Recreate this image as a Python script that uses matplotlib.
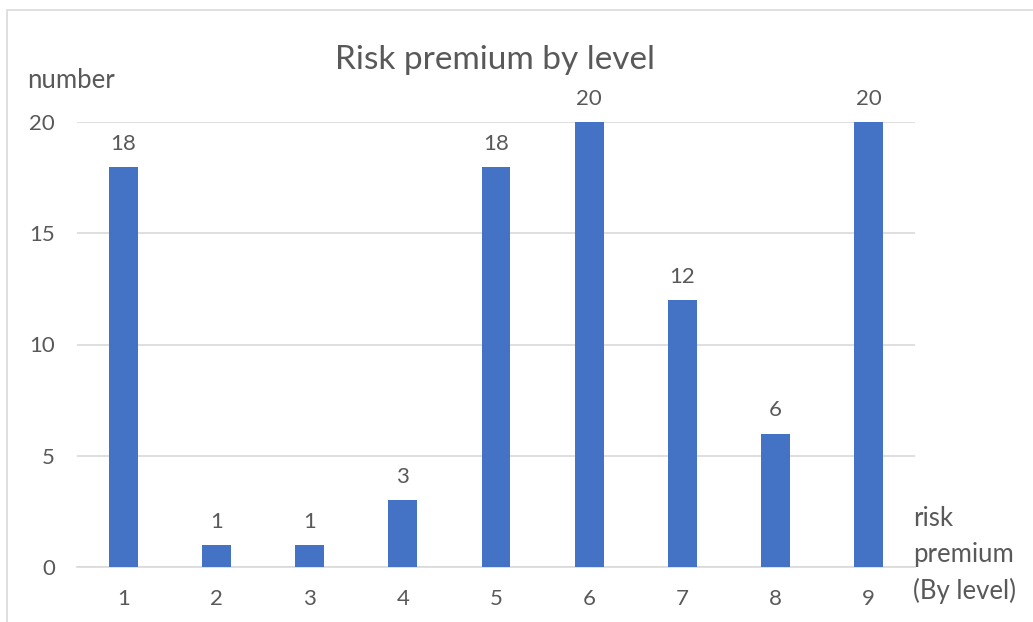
import matplotlib.pyplot as plt
from matplotlib.patches import Rectangle

levels = ["1", "2", "3", "4", "5", "6", "7", "8", "9"]
counts = [18, 1, 1, 3, 18, 20, 12, 6, 20]
y_ticks = [0, 5, 10, 15, 20]

text_color = "#595959"
grid_color = "#d9d9d9"
bar_color = "#4472c4"

plt.rcParams["font.family"] = ["Lato", "DejaVu Sans"]

W, H = 1033, 622
fig = plt.figure(figsize=(W / 100, H / 100), dpi=100)
ax = fig.add_axes([77 / W, 55 / H, (915 - 77) / W, (567 - 122) / H])

x = range(len(levels))
bars = ax.bar(x, counts, width=0.31, color=bar_color, zorder=3)
for xi, v in zip(x, counts):
    ax.annotate(str(v), (xi, v), xytext=(0, 17), textcoords="offset pixels",
                ha="center", va="baseline", fontsize=16, color=text_color)

ax.set_xlim(-0.5, len(levels) - 0.5)
ax.set_ylim(0, 20)
ax.set_yticks(y_ticks)
ax.set_xticks(list(x))
ax.set_xticklabels(levels)
ax.tick_params(length=0, labelsize=16, colors=text_color)
ax.tick_params(axis="y", pad=16)
ax.tick_params(axis="x", pad=16)
ax.grid(axis="y", color=grid_color, linewidth=1.2, zorder=0)
for s in ["top", "right", "left"]:
    ax.spines[s].set_visible(False)
ax.spines["bottom"].set_color(grid_color)
ax.spines["bottom"].set_linewidth(1.2)

fig.text(495 / W, 1 - 60 / H, "Risk premium by level", ha="center", va="center",
         fontsize=24, color=text_color)
fig.text(27 / W, 1 - 80 / H, "number", ha="left", va="center",
         fontsize=18.5, color=text_color)
fig.text(913 / W, 1 - 555 / H, "risk\npremium\n(By level)", ha="left", va="center",
         fontsize=18.5, color=text_color, linespacing=1.55)

# chart frame, open at the right and bottom edges
top = 1 - 10 / H
fig.patches.append(Rectangle((7 / W, -0.1), 1.2, top + 0.1,
                             transform=fig.transFigure, fill=False,
                             edgecolor=grid_color, linewidth=1.2))

fig.savefig("out.png", dpi=100)
